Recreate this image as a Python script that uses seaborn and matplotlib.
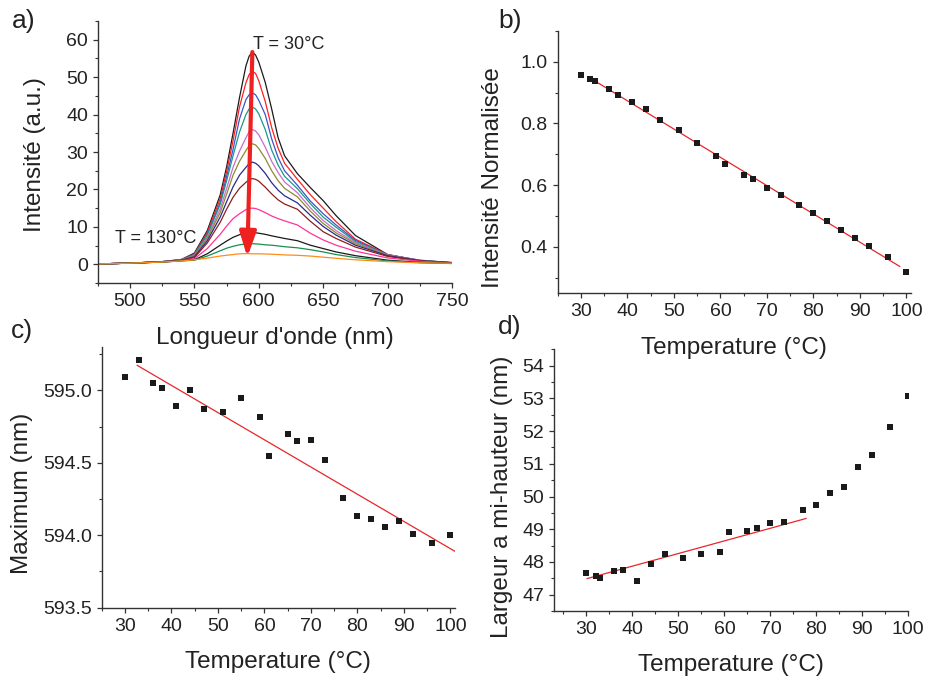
import matplotlib
matplotlib.use("Agg")
import matplotlib.pyplot as plt
from matplotlib.ticker import MultipleLocator, FormatStrFormatter
import seaborn as sns
import pandas as pd

# ---------------- data ----------------
# a) emission spectra, from T = 30 °C (top) to T = 130 °C (bottom)
wavelength = [475, 500, 525, 540, 550, 560, 570, 575, 580, 585, 590, 592.5, 595, 597.5,
              600, 605, 610, 615, 620, 630, 640, 650, 660, 675, 700, 725, 750]
spectra = [
    [0.1, 0.3, 0.7, 1.3, 3.0, 9.0, 18.5, 26.0, 35.0, 44.5, 53.0, 55.6, 56.7, 55.9, 54.0, 48.6, 41.5, 33.8, 29.0, 24.2, 20.5, 17.0, 13.0, 7.7, 2.6, 1.0, 0.4],
    [0.1, 0.3, 0.7, 1.25, 2.8, 8.5, 17.5, 24.8, 33.0, 42.0, 48.5, 50.7, 51.6, 51.0, 49.0, 43.5, 36.5, 31.0, 27.0, 22.7, 18.6, 15.0, 11.4, 6.7, 2.6, 1.0, 0.4],
    [0.1, 0.3, 0.7, 1.2, 2.7, 8.0, 16.5, 23.4, 30.7, 38.8, 44.0, 45.3, 45.8, 45.3, 43.8, 40.0, 33.5, 28.5, 25.0, 21.1, 16.9, 13.5, 10.5, 6.4, 2.5, 1.0, 0.5],
    [0.1, 0.3, 0.7, 1.2, 2.5, 7.8, 16.0, 22.3, 29.0, 35.3, 40.0, 41.5, 42.0, 41.5, 40.2, 36.0, 30.5, 26.5, 23.5, 20.2, 16.2, 12.6, 9.9, 6.1, 2.5, 1.1, 0.4],
    [0.1, 0.3, 0.7, 1.15, 2.3, 7.2, 14.8, 20.2, 25.9, 30.2, 33.8, 35.4, 36.0, 35.6, 34.6, 31.3, 27.5, 24.5, 22.0, 19.1, 15.1, 11.7, 9.0, 5.8, 2.5, 1.1, 0.4],
    [0.1, 0.3, 0.7, 1.1, 2.3, 6.9, 13.8, 18.7, 23.8, 27.5, 30.4, 31.7, 32.2, 31.9, 30.9, 28.3, 25.0, 22.3, 20.3, 18.0, 14.2, 10.9, 8.4, 5.5, 2.4, 1.0, 0.4],
    [0.1, 0.3, 0.65, 1.1, 2.0, 6.3, 12.6, 16.7, 20.7, 23.8, 25.9, 26.9, 27.3, 27.0, 26.3, 24.3, 21.8, 19.8, 18.3, 16.4, 13.1, 10.1, 7.8, 5.1, 2.3, 1.0, 0.4],
    [0.1, 0.3, 0.65, 1.05, 1.8, 5.7, 11.2, 14.7, 17.9, 20.3, 21.9, 22.6, 22.9, 22.7, 22.2, 20.6, 18.8, 17.2, 16.1, 14.7, 11.5, 8.7, 6.9, 4.6, 2.1, 0.9, 0.4],
    [0.1, 0.3, 0.6, 1.0, 1.5, 4.2, 8.0, 10.2, 12.2, 13.5, 14.6, 14.95, 15.0, 14.9, 14.6, 13.8, 12.9, 12.2, 11.6, 10.5, 8.3, 6.5, 5.1, 3.5, 1.7, 0.8, 0.3],
    [0.1, 0.3, 0.6, 0.95, 1.2, 2.8, 5.1, 6.2, 7.2, 7.9, 8.4, 8.5, 8.45, 8.4, 8.3, 8.0, 7.6, 7.25, 6.9, 6.3, 5.1, 4.2, 3.3, 2.3, 1.1, 0.5, 0.3],
    [0.1, 0.3, 0.6, 0.9, 1.1, 2.2, 3.6, 4.3, 4.8, 5.2, 5.45, 5.5, 5.5, 5.45, 5.4, 5.2, 5.1, 4.9, 4.7, 4.4, 3.9, 3.3, 2.6, 1.8, 0.9, 0.4, 0.2],
    [0.1, 0.3, 0.6, 0.9, 1.2, 1.65, 2.2, 2.4, 2.6, 2.8, 2.85, 2.85, 2.8, 2.8, 2.8, 2.75, 2.7, 2.6, 2.5, 2.4, 2.2, 1.9, 1.6, 1.2, 0.7, 0.4, 0.3],
]
spectra_colors = ["#1a1a1a", "#ff1f1f", "#3a55c8", "#1a9988", "#c86ccc", "#8c8c30",
                  "#2a2a8c", "#8c1e1e", "#ff3399", "#1a1a1a", "#169050", "#ff8c1a"]
arrow_start = (595.0, 56.7)
arrow_end = (591.1, 1.9)

# b) normalised intensity vs temperature
temp_b = [30, 32, 33, 36, 38, 41, 44, 47, 51, 55, 59, 61, 65, 67, 70, 73, 77, 80, 83, 86, 89, 92, 96, 100]
norm_int = [0.958, 0.945, 0.938, 0.912, 0.891, 0.870, 0.847, 0.810, 0.778, 0.738, 0.694, 0.667,
            0.634, 0.621, 0.591, 0.569, 0.534, 0.510, 0.483, 0.456, 0.429, 0.403, 0.368, 0.317]
fit_b_x = [32.0, 98.6]
fit_b_y = [0.947, 0.336]

# c) peak maximum vs temperature
temp_c = [30, 33, 36, 38, 41, 44, 47, 51, 55, 59, 61, 65, 67, 70, 73, 77, 80, 83, 86, 89, 92, 96, 100]
peak_max = [595.09, 595.21, 595.05, 595.02, 594.89, 595.00, 594.87, 594.85, 594.95, 594.82, 594.55, 594.70,
            594.65, 594.66, 594.52, 594.26, 594.13, 594.11, 594.06, 594.10, 594.01, 593.95, 594.00]
fit_c_x = [32.6, 101.0]
fit_c_y = [595.174, 593.889]

# d) FWHM vs temperature
temp_d = [30, 32, 33, 36, 38, 41, 44, 47, 51, 55, 59, 61, 65, 67, 70, 73, 77, 80, 83, 86, 89, 92, 96, 100]
fwhm = [47.67, 47.57, 47.52, 47.71, 47.74, 47.42, 47.93, 48.25, 48.12, 48.23, 48.31, 48.93,
        48.96, 49.05, 49.18, 49.23, 49.60, 49.73, 50.11, 50.28, 50.89, 51.28, 52.14, 53.08]
fit_d_x = [30.1, 77.8]
fit_d_y = [47.49, 49.33]

# ---------------- style ----------------
sns.set_theme(style="ticks")
plt.rcParams["font.family"] = ["Liberation Sans", "DejaVu Sans"]
plt.rcParams.update({
    "axes.edgecolor": "#333333",
    "axes.linewidth": 1.0,
    "xtick.color": "#333333",
    "ytick.color": "#333333",
    "xtick.labelcolor": "#222222",
    "ytick.labelcolor": "#222222",
    "xtick.labelsize": 14,
    "ytick.labelsize": 14,
    "xtick.direction": "out",
    "ytick.direction": "out",
    "xtick.major.size": 3.6,
    "ytick.major.size": 3.6,
    "xtick.minor.size": 2.0,
    "ytick.minor.size": 2.0,
    "xtick.major.width": 0.9,
    "ytick.major.width": 0.9,
    "xtick.minor.width": 0.8,
    "ytick.minor.width": 0.8,
    "xtick.major.pad": 3.5,
    "ytick.major.pad": 3.5,
})

W, H = 927, 679
fig = plt.figure(figsize=(W / 100, H / 100), dpi=100)


def axes_px(left, top, right, bottom):
    ax = fig.add_axes([left / W, 1 - bottom / H, (right - left) / W, (bottom - top) / H])
    ax.patch.set_visible(False)
    return ax


ax_a = axes_px(97.8, 21, 452, 283)
ax_b = axes_px(557.7, 31, 911, 293)
ax_c = axes_px(101.7, 347, 455, 607.7)
ax_d = axes_px(554.3, 349.3, 908.3, 611)

label_kw = dict(fontsize=17.5, color="#222222")
red_fit = "#e8262a"
marker_col = "#1a1a1a"

# ---- a) spectra ----
rows = []
for i, vals in enumerate(spectra):
    for w, v in zip(wavelength, vals):
        rows.append({"wl": w, "I": v, "curve": i})
df_a = pd.DataFrame(rows)
sns.lineplot(data=df_a, x="wl", y="I", hue="curve", palette=spectra_colors,
             estimator=None, sort=False, linewidth=0.9, legend=False, ax=ax_a)
ax_a.annotate("", xy=arrow_end, xytext=arrow_start,
              arrowprops=dict(arrowstyle="-|>,head_length=0.6,head_width=0.2",
                              color="#ee2020", lw=3.0, mutation_scale=25,
                              shrinkA=0, shrinkB=0))
ax_a.text(595.3, 58.6, "T = 30°C", fontsize=13, color="#222222", ha="left", va="center")
ax_a.text(488.4, 6.9, "T = 130°C", fontsize=13, color="#222222", ha="left", va="center")
ax_a.set_xlim(475, 750)
ax_a.set_ylim(-5, 65)
ax_a.xaxis.set_major_locator(MultipleLocator(50))
ax_a.xaxis.set_minor_locator(MultipleLocator(25))
ax_a.yaxis.set_major_locator(MultipleLocator(10))
ax_a.yaxis.set_minor_locator(MultipleLocator(5))
ax_a.set_xlabel("Longueur d'onde (nm)", **label_kw)
ax_a.set_ylabel("Intensité (a.u.)", **label_kw)
ax_a.xaxis.set_label_coords(0.5, -0.21)
ax_a.yaxis.set_label_coords(-0.178, 0.49)

# ---- b) normalised intensity ----
df_b = pd.DataFrame({"T": temp_b, "I": norm_int})
sns.scatterplot(data=df_b, x="T", y="I", marker="s", s=22, color=marker_col,
                linewidth=0, ax=ax_b, zorder=3)
sns.lineplot(x=fit_b_x, y=fit_b_y, color=red_fit, linewidth=0.9, ax=ax_b, zorder=2)
ax_b.set_xlim(25, 101)
ax_b.set_ylim(0.25, 1.1)
ax_b.xaxis.set_major_locator(MultipleLocator(10))
ax_b.xaxis.set_minor_locator(MultipleLocator(5))
ax_b.yaxis.set_major_locator(MultipleLocator(0.2))
ax_b.yaxis.set_minor_locator(MultipleLocator(0.1))
ax_b.yaxis.set_major_formatter(FormatStrFormatter("%.1f"))
ax_b.set_xlabel("Temperature (°C)", **label_kw)
ax_b.set_ylabel("Intensité Normalisée", **label_kw)
ax_b.xaxis.set_label_coords(0.5, -0.21)
ax_b.yaxis.set_label_coords(-0.183, 0.44)

# ---- c) maximum ----
df_c = pd.DataFrame({"T": temp_c, "M": peak_max})
sns.scatterplot(data=df_c, x="T", y="M", marker="s", s=22, color=marker_col,
                linewidth=0, ax=ax_c, zorder=3)
sns.lineplot(x=fit_c_x, y=fit_c_y, color=red_fit, linewidth=0.9, ax=ax_c, zorder=2)
ax_c.set_xlim(25, 101)
ax_c.set_ylim(593.5, 595.3)
ax_c.xaxis.set_major_locator(MultipleLocator(10))
ax_c.xaxis.set_minor_locator(MultipleLocator(5))
ax_c.yaxis.set_major_locator(MultipleLocator(0.5))
ax_c.yaxis.set_minor_locator(MultipleLocator(0.25))
ax_c.yaxis.set_major_formatter(FormatStrFormatter("%.1f"))
ax_c.set_xlabel("Temperature (°C)", **label_kw)
ax_c.set_ylabel("Maximum (nm)", **label_kw)
ax_c.xaxis.set_label_coords(0.5, -0.207)
ax_c.yaxis.set_label_coords(-0.226, 0.44)

# ---- d) FWHM ----
df_d = pd.DataFrame({"T": temp_d, "F": fwhm})
sns.scatterplot(data=df_d, x="T", y="F", marker="s", s=22, color=marker_col,
                linewidth=0, ax=ax_d, zorder=3)
sns.lineplot(x=fit_d_x, y=fit_d_y, color=red_fit, linewidth=0.9, ax=ax_d, zorder=2)
ax_d.set_xlim(23, 100)
ax_d.set_ylim(46.5, 54.5)
ax_d.xaxis.set_major_locator(MultipleLocator(10))
ax_d.xaxis.set_minor_locator(MultipleLocator(5))
ax_d.yaxis.set_major_locator(MultipleLocator(1))
ax_d.yaxis.set_minor_locator(MultipleLocator(0.5))
ax_d.set_xlabel("Temperature (°C)", **label_kw)
ax_d.set_ylabel("Largeur a mi-hauteur (nm)", **label_kw)
ax_d.xaxis.set_label_coords(0.5, -0.206)
ax_d.yaxis.set_label_coords(-0.149, 0.437)

for ax in (ax_a, ax_b, ax_c, ax_d):
    sns.despine(ax=ax)
    ax.xaxis.label.set_verticalalignment("center")
    ax.yaxis.label.set_verticalalignment("center")
    ax.tick_params(which="both", top=False, right=False)

# panel letters
for txt, x, y in (("a)", 23.5, 21), ("b)", 510, 21), ("c)", 22, 331), ("d)", 510, 327)):
    fig.text(x / W, 1 - y / H, txt, fontsize=19, color="#222222", ha="center", va="center")

fig.savefig("out.png", dpi=100)
